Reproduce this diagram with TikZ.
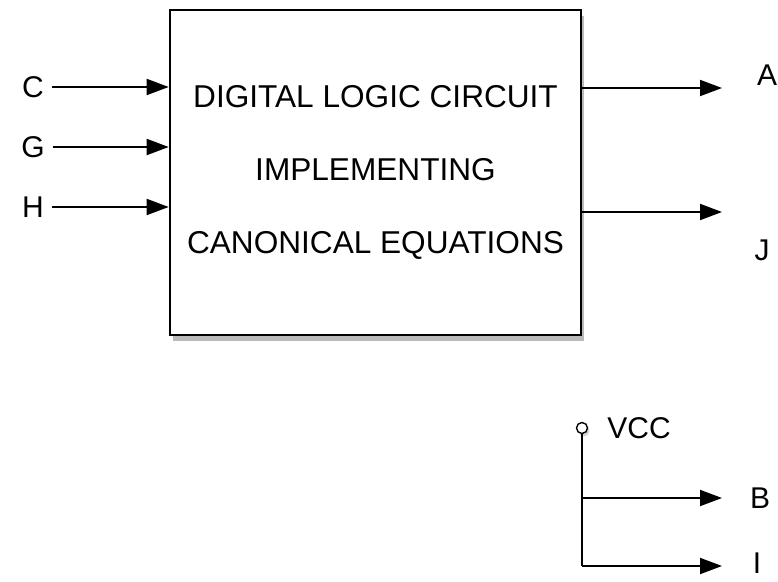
\documentclass[tikz,border=0pt]{standalone}
\usepackage{fontspec}
\setmainfont{Liberation Sans}
\usetikzlibrary{arrows.meta, positioning, shadows}

\begin{document}
\begin{tikzpicture}[x=1pt,y=-1pt,node distance=60pt,on grid,
    sig/.style={line width=1.9pt,-{Triangle[length=22pt,width=16pt]}},
    block/.style={draw,line width=2.6pt,fill=white,align=center,
      font=\fontsize{31.6}{73}\selectfont,
      drop shadow={shadow xshift=3pt,shadow yshift=-6pt,fill=black!60,opacity=.45}},
    pin/.style={font=\fontsize{30}{36}\selectfont,inner sep=8pt}]
      \useasboundingbox (0,0) rectangle (778,581);

      \node[block,minimum width=411pt,minimum height=325pt] (circuit) at (375.5,172.5)
        {DIGITAL LOGIC CIRCUIT\\IMPLEMENTING\\CANONICAL EQUATIONS};

      \node[pin] (inC) at (33,87) {C};
      \node[pin] (inG) [below=of inC] {G};
      \node[pin] (inH) [below=of inG] {H};

      \draw[sig] (inC) -- (inC -| circuit.west);
      \draw[sig] (inG) -- (inG -| circuit.west);
      \draw[sig] (inH) -- (inH -| circuit.west);

      \coordinate (tipA) at (722,88);
      \coordinate (tipJ) at (722,212);
      \node[pin] (outA) at (767,75) {A};
      \node[pin] (outJ) at (762,250) {J};
      \draw[sig] (circuit.east |- tipA) -- (tipA);
      \draw[sig] (circuit.east |- tipJ) -- (tipJ);

      \node[circle,draw,line width=1.4pt,fill=white,minimum size=11pt,inner sep=0pt,
        drop shadow={shadow xshift=2pt,shadow yshift=-3pt,fill=black!40,opacity=.4}] (vcc) at (582,428) {};
      \node[pin] (vcclabel) at (639,428) {VCC};
      \coordinate (vbot) at (582,566);
      \coordinate (tipB) at (722,498);
      \coordinate (tipI) at (722,566);
      \node[pin] (outB) at (760,498) {B};
      \node[pin] (outI) at (757,563) {I};

      \draw[line width=1.9pt] (vcc) -- (vbot);
      \draw[sig] (vcc |- tipB) -- (tipB);
      \draw[sig] (vbot) -- (tipI);
\end{tikzpicture}
\end{document}
